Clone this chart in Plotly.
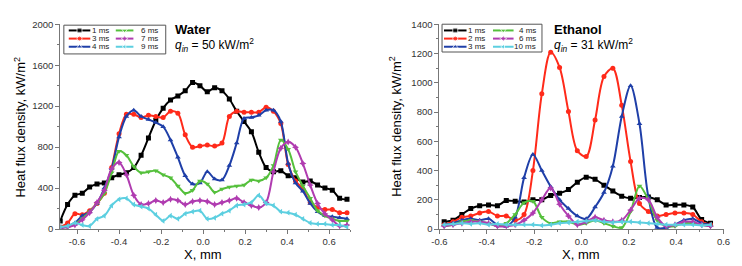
import plotly.graph_objects as go

# ---------------- Data ----------------
# Water (left panel)
water_x = [round(-0.68 + 0.035 * k, 4) for k in range(40)]
water_labels = ["1 ms", "3 ms", "4 ms", "6 ms", "7 ms", "9 ms"]
water_1ms = [80, 240, 330, 350, 410, 440, 450, 500, 530, 550, 600, 720, 890, 1060, 1180, 1260, 1300, 1350, 1430, 1400,
             1340, 1380, 1350, 1270, 1150, 1050, 950, 750, 600, 560, 570, 520, 500, 460, 470, 430, 400, 380, 300, 290]
water_3ms = [20, 60, 150, 140, 180, 250, 350, 600, 930, 1120, 1120, 1090, 1110, 1100, 1090, 1150, 1130, 920, 800, 810,
             820, 810, 840, 1100, 1150, 1140, 1140, 1140, 1190, 1150, 1030, 630, 470, 390, 260, 210, 190, 190, 160, 160]
water_4ms = [10, 30, 60, 130, 170, 250, 400, 590, 900, 1100, 1160, 1100, 1070, 1040, 1000, 870, 700, 520, 440, 450,
             560, 490, 480, 620, 840, 1080, 1090, 1110, 1160, 1160, 1050, 640, 450, 370, 250, 170, 130, 120, 110, 100]
water_6ms = [20, 20, 50, 100, 170, 250, 350, 550, 760, 720, 610, 550, 560, 570, 530, 500, 420, 350, 380, 470,
             440, 360, 390, 410, 420, 430, 480, 470, 500, 620, 870, 780, 560, 420, 300, 180, 130, 100, 80, 80]
water_7ms = [10, 20, 40, 90, 160, 260, 380, 590, 650, 530, 330, 240, 250, 280, 260, 290, 280, 240, 270, 280,
             270, 240, 260, 280, 300, 260, 230, 210, 260, 560, 790, 850, 800, 640, 430, 250, 150, 90, 30, 40]
water_9ms = [20, 30, 60, 40, 30, 100, 130, 230, 290, 300, 240, 220, 200, 140, 80, 130, 100, 150, 170, 180,
             100, 110, 150, 180, 230, 240, 260, 330, 250, 230, 170, 160, 140, 100, 60, 50, 50, 40, 40, 20]
water_series = [water_1ms, water_3ms, water_4ms, water_6ms, water_7ms, water_9ms]

# Ethanol (right panel)
eth_x = [round(-0.58 + 0.0375 * k, 4) for k in range(31)]
eth_labels = ["1 ms", "2 ms", "3 ms", "4 ms", "6 ms", "10 ms"]
eth_1ms = [50, 60, 100, 140, 160, 165, 160, 195, 190, 185, 200, 200, 230, 245, 270, 320,
           355, 340, 300, 260, 225, 210, 215, 220, 200, 165, 165, 165, 150, 65, 40]
eth_2ms = [30, 50, 80, 90, 110, 120, 90, 90, 60, 100, 400, 924, 1208, 1105, 804, 535,
           496, 745, 1042, 1099, 847, 461, 175, 120, 90, 100, 110, 110, 100, 50, 30]
eth_3ms = [30, 40, 60, 70, 60, 70, 30, 20, 80, 350, 510, 400, 290, 200, 140, 90,
           70, 150, 250, 430, 770, 980, 720, 220, 10, 10, 30, 60, 70, 40, 30]
eth_4ms = [20, 30, 50, 60, 50, 40, 20, 40, 100, 180, 190, 80, 40, 50, 50, 30,
           40, 60, 40, 20, 10, 120, 295, 200, 60, 20, 20, 40, 40, 30, 20]
eth_6ms = [20, 30, 40, 50, 50, 40, 20, 20, 30, 60, 110, 200, 280, 170, 90, 30,
           50, 80, 60, 50, 60, 130, 210, 200, 80, 20, 30, 50, 50, 30, 20]
eth_10ms = [30, 35, 40, 35, 40, 30, 35, 30, 30, 30, 30, 25, 30, 40, 45, 50,
            55, 60, 50, 45, 50, 50, 45, 40, 35, 30, 30, 30, 30, 25, 30]
eth_series = [eth_1ms, eth_2ms, eth_3ms, eth_4ms, eth_6ms, eth_10ms]

# ---------------- Styles ----------------
colors = ["#000000", "#ff2a1a", "#1f3fa8", "#55c03c", "#b03cb0", "#5ccfe0"]
symbols = ["square", "circle", "triangle-up", "triangle-down", "star-diamond", "triangle-left"]
FONT = "Liberation Sans, Arial, sans-serif"
W, H = 742, 266
LW = 2.0
MS = 5

fig = go.Figure()

for ys, c, s in zip(water_series, colors, symbols):
    fig.add_trace(go.Scatter(x=water_x, y=ys, mode="lines+markers", xaxis="x", yaxis="y",
                             line=dict(color=c, width=LW, shape="spline", smoothing=0.9),
                             marker=dict(color=c, symbol=s, size=MS), showlegend=False))
for ys, c, s in zip(eth_series, colors, symbols):
    fig.add_trace(go.Scatter(x=eth_x, y=ys, mode="lines+markers", xaxis="x2", yaxis="y2",
                             line=dict(color=c, width=LW, shape="spline", smoothing=0.9),
                             marker=dict(color=c, symbol=s, size=MS), showlegend=False))

# ---------------- Manual legends (overlay pixel axis) ----------------
annotations = []
shapes = []
rows = [25.5, 34, 42.5]


def add_legend(labels, col_line, col_text_right, box):
    x0b, y0b, x1b, y1b = box
    shapes.append(dict(type="rect", xref="paper", yref="paper",
                       x0=x0b / W, x1=x1b / W, y0=1 - y1b / H, y1=1 - y0b / H,
                       line=dict(color="#555555", width=1), fillcolor="rgba(0,0,0,0)"))
    for i, lab in enumerate(labels):
        col, row = divmod(i, 3)
        lx0, lx1 = col_line[col]
        y = rows[row]
        fig.add_trace(go.Scatter(x=[lx0, (lx0 + lx1) / 2, lx1], y=[y, y, y], mode="lines+markers",
                                 xaxis="x3", yaxis="y3",
                                 line=dict(color=colors[i], width=LW),
                                 marker=dict(color=colors[i], symbol=symbols[i], size=[0, MS, 0]),
                                 showlegend=False, hoverinfo="skip"))
        annotations.append(dict(x=col_text_right[col] / W, y=1 - y / H, xref="paper", yref="paper",
                                text=lab, showarrow=False, xanchor="right", yanchor="middle",
                                font=dict(family=FONT, size=8, color="#222222")))


add_legend(water_labels, [(62, 84), (110, 128)], [105, 155], (57, 20, 161, 50))
add_legend(eth_labels, [(445, 468), (495, 516)], [489, 541], (443, 19, 545, 48))

# Panel titles
for xpx, name, q in [(168, "Water", "50"), (555, "Ethanol", "31")]:
    annotations.append(dict(x=xpx / W, y=1 - 24 / H, xref="paper", yref="paper", text="<b>" + name + "</b>",
                            showarrow=False, xanchor="left", yanchor="middle",
                            font=dict(family=FONT, size=13, color="#000000")))
    annotations.append(dict(x=xpx / W, y=1 - 41 / H, xref="paper", yref="paper",
                            text="<i>q<sub>in</sub></i> = " + q + " kW/m<sup>2</sup>",
                            showarrow=False, xanchor="left", yanchor="middle",
                            font=dict(family=FONT, size=12, color="#000000")))

# Axis titles as annotations
for xc, yt in [(199, 12), (585, 395)]:
    annotations.append(dict(x=xc / W, y=1 - 259 / H, xref="paper", yref="paper", text="X, mm",
                            showarrow=False, xanchor="center", yanchor="middle",
                            font=dict(family=FONT, size=13, color="#000000")))
    annotations.append(dict(x=yt / W, y=1 - 126 / H, xref="paper", yref="paper",
                            text="Heat flux density, kW/m<sup>2</sup>", textangle=-90,
                            showarrow=False, xanchor="center", yanchor="middle",
                            font=dict(family=FONT, size=13, color="#000000")))

ydom = [1 - 232.7 / H, 1 - 19 / H]
axis_common = dict(showgrid=False, zeroline=False, showline=True, linecolor="#777777", linewidth=1,
                   ticks="outside", ticklen=4, tickcolor="#777777", mirror=False,
                   tickfont=dict(family=FONT, size=9.5, color="#333333"))

fig.update_layout(
    width=W, height=H, margin=dict(l=0, r=0, t=0, b=0),
    plot_bgcolor="rgba(0,0,0,0)", paper_bgcolor="white",
    xaxis=dict(domain=[53.3 / W, 349.2 / W], range=[-0.68, 0.70], anchor="y",
               tickvals=[-0.6, -0.4, -0.2, 0.0, 0.2, 0.4, 0.6],
               ticktext=["-0.6", "-0.4", "-0.2", "0.0", "0.2", "0.4", "0.6"],
               minor=dict(dtick=0.1, tick0=0, ticks="outside", ticklen=2, tickcolor="#777777"),
               **axis_common),
    yaxis=dict(domain=ydom, range=[0, 2000], anchor="x", dtick=400,
               minor=dict(dtick=200, ticks="outside", ticklen=2, tickcolor="#777777"),
               **axis_common),
    xaxis2=dict(domain=[440.3 / W, 730.3 / W], range=[-0.6, 0.6], anchor="y2",
                tickvals=[-0.6, -0.4, -0.2, 0.0, 0.2, 0.4, 0.6],
                ticktext=["-0.6", "-0.4", "-0.2", "0.0", "0.2", "0.4", "0.6"],
                minor=dict(dtick=0.1, tick0=0, ticks="outside", ticklen=2, tickcolor="#777777"),
                **axis_common),
    yaxis2=dict(domain=ydom, range=[0, 1400], anchor="x2", dtick=200,
                minor=dict(dtick=100, ticks="outside", ticklen=2, tickcolor="#777777"),
                **axis_common),
    xaxis3=dict(domain=[0, 1], range=[0, W], visible=False, anchor="y3", fixedrange=True),
    yaxis3=dict(domain=[0, 1], range=[H, 0], visible=False, anchor="x3", fixedrange=True),
    annotations=annotations, shapes=shapes, showlegend=False,
)

fig.write_html("out.html")
